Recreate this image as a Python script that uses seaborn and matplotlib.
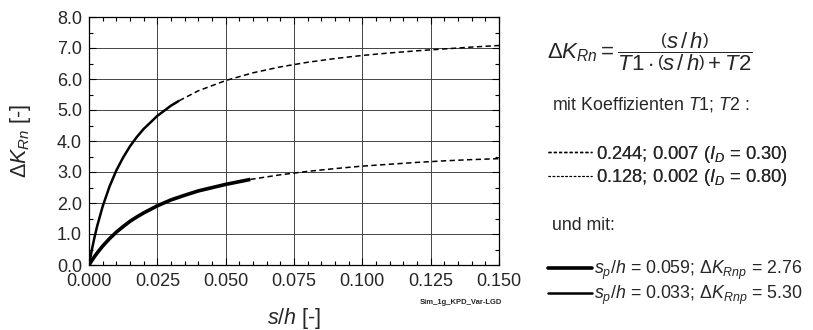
import numpy as np
import pandas as pd
import matplotlib
matplotlib.use("Agg")
import matplotlib.pyplot as plt
from matplotlib.lines import Line2D
from matplotlib.ticker import MultipleLocator
import seaborn as sns

# values
x_loose = [0, 0.001, 0.002, 0.003, 0.005, 0.0075, 0.01, 0.0125, 0.015, 0.0175, 0.02,
           0.025, 0.03, 0.035, 0.04, 0.05, 0.059, 0.07, 0.08, 0.09, 0.10, 0.11, 0.12,
           0.13, 0.14, 0.15]
k_loose = [0, 0.14, 0.27, 0.39, 0.61, 0.85, 1.06, 1.24, 1.41, 1.55, 1.68,
           1.91, 2.10, 2.25, 2.39, 2.60, 2.76, 2.91, 3.02, 3.11, 3.19, 3.25, 3.31,
           3.36, 3.40, 3.43]
x_dense = [0, 0.001, 0.002, 0.003, 0.005, 0.0075, 0.01, 0.0125, 0.015, 0.0175, 0.02,
           0.025, 0.03, 0.033, 0.04, 0.05, 0.06, 0.07, 0.08, 0.09, 0.10, 0.11, 0.12,
           0.13, 0.14, 0.15]
k_dense = [0, 0.47, 0.89, 1.26, 1.89, 2.53, 3.05, 3.47, 3.83, 4.13, 4.39,
           4.81, 5.14, 5.30, 5.62, 5.95, 6.20, 6.39, 6.54, 6.66, 6.76, 6.84, 6.91,
           6.97, 7.03, 7.08]
sp_loose, sp_dense = 0.059, 0.033

coef_labels = [r"0.244; 0.007 ($\mathit{I}_{\mathit{D}}$ = 0.30)",
               r"0.128; 0.002 ($\mathit{I}_{\mathit{D}}$ = 0.80)"]
sp_labels = [r"$\mathit{s}_{\mathit{p}}\mathit{/h}$ = 0.059; $\Delta \mathit{K}_{\mathit{Rnp}}$ = 2.76",
             r"$\mathit{s}_{\mathit{p}}\mathit{/h}$ = 0.033; $\Delta \mathit{K}_{\mathit{Rnp}}$ = 5.30"]

sns.set_style("white")
plt.rcParams["font.family"] = ["Liberation Sans", "DejaVu Sans"]
plt.rcParams["mathtext.fontset"] = "custom"
plt.rcParams["mathtext.rm"] = "Liberation Sans"
plt.rcParams["mathtext.it"] = "Liberation Sans:italic"
plt.rcParams["mathtext.bf"] = "Liberation Sans:bold"

df_loose = pd.DataFrame({"x": x_loose, "k": k_loose})
df_dense = pd.DataFrame({"x": x_dense, "k": k_dense})

W, H = 813, 330
fig = plt.figure(figsize=(W / 100, H / 100), dpi=100)
ax = fig.add_axes([89 / W, 1 - 265 / H, 410 / W, 248 / H])

dash_kw = dict(color="black", linewidth=1.1, dashes=(3.5, 2.2))
sns.lineplot(data=df_loose[df_loose.x >= sp_loose], x="x", y="k", ax=ax, **dash_kw)
sns.lineplot(data=df_dense[df_dense.x >= sp_dense], x="x", y="k", ax=ax, **dash_kw)
sns.lineplot(data=df_loose[df_loose.x <= sp_loose], x="x", y="k", ax=ax,
             color="black", linewidth=2.6, solid_capstyle="butt")
sns.lineplot(data=df_dense[df_dense.x <= sp_dense], x="x", y="k", ax=ax,
             color="black", linewidth=1.8, solid_capstyle="butt")

ax.set_xlim(0, 0.15)
ax.set_ylim(0, 8)
ax.xaxis.set_major_locator(MultipleLocator(0.025))
ax.xaxis.set_minor_locator(MultipleLocator(0.005))
ax.yaxis.set_major_locator(MultipleLocator(1.0))
ax.yaxis.set_minor_locator(MultipleLocator(0.5))
ax.set_xticklabels([f"{v:.3f}" for v in ax.get_xticks()])
ax.set_yticklabels([f"{v:.1f}" for v in ax.get_yticks()])
ax.tick_params(which="both", direction="in", top=True, right=True,
               bottom=True, left=True, color="black", width=0.8)
ax.tick_params(which="major", length=5, labelsize=13)
ax.tick_params(axis="x", which="major", pad=6)
ax.tick_params(axis="y", which="major", pad=5)
ax.tick_params(which="minor", length=3)
ax.grid(True, which="major", color="#444444", linewidth=0.7)
for s in ax.spines.values():
    s.set_color("black")
    s.set_linewidth(0.9)

ax.set_xlabel(r"$\mathit{s/h}$ [-]", fontsize=15.5, labelpad=11)
ax.set_ylabel(r"$\Delta \mathit{K}_{\mathit{Rn}}$ [-]", fontsize=15.5, labelpad=17)

fig.text(461 / W, 1 - 302 / H, "Sim_1g_KPD_Var-LGD", fontsize=5.5, ha="center",
         va="center", fontweight="bold")

# formula and notes on the right
fig.text(547 / W, 1 - 52 / H,
         r"$\Delta \mathit{K}_{\mathit{Rn}} = \dfrac{\left(\mathit{s\,/\,h}\right)}"
         r"{\mathit{T1}\cdot\left(\mathit{s\,/\,h}\right) + \mathit{T2}}$",
         fontsize=16, ha="left", va="center")
fig.text(552 / W, 1 - 104 / H, r"mit Koeffizienten $\mathit{T1}$; $\mathit{T2}$ :",
         fontsize=12.8, ha="left", va="center")
fig.text(552 / W, 1 - 225 / H, "und mit:", fontsize=12.8, ha="left", va="center")

coef_handles = [Line2D([], [], color="black", linewidth=1.0, dashes=(2.2, 1.6)),
                Line2D([], [], color="black", linewidth=0.8, dashes=(2.2, 1.6))]
sp_handles = [Line2D([], [], color="black", linewidth=2.6),
              Line2D([], [], color="black", linewidth=1.8)]

leg1 = fig.legend(coef_handles, coef_labels, loc="center left",
                  bbox_to_anchor=(548 / W, 1 - 166 / H), frameon=False,
                  fontsize=13.2, handlelength=2.4, handletextpad=0.2,
                  labelspacing=0.15, borderaxespad=0, borderpad=0)
leg2 = fig.legend(sp_handles, sp_labels, loc="center left",
                  bbox_to_anchor=(548 / W, 1 - 283 / H), frameon=False,
                  fontsize=12.8, handlelength=2.5, handletextpad=0.1,
                  labelspacing=0.12, borderaxespad=0, borderpad=0)
fig.add_artist(leg1)

fig.savefig("out.png", dpi=100)
